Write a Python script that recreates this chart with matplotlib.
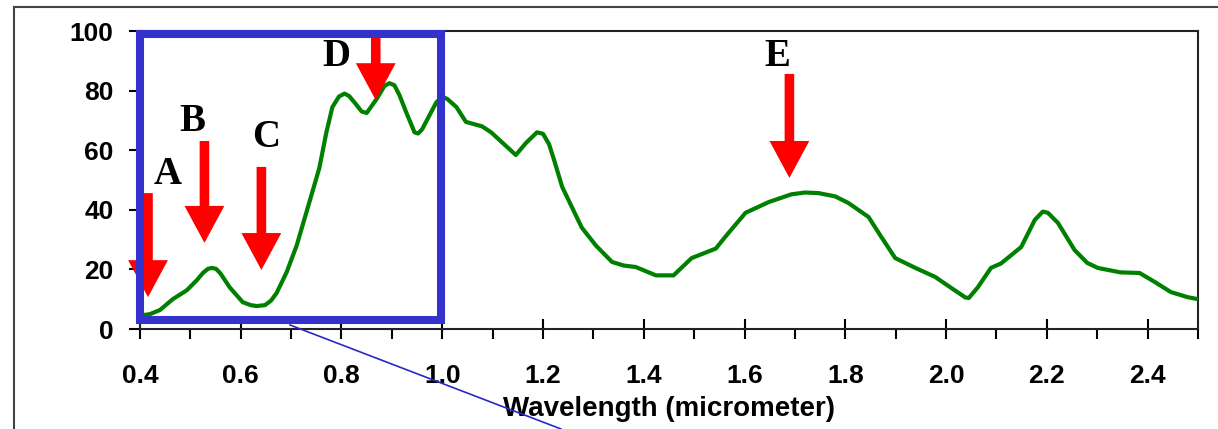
import numpy as np
import matplotlib.pyplot as plt
from matplotlib.patches import Rectangle
from matplotlib.lines import Line2D
from matplotlib.ticker import MultipleLocator

# spectrum
WAVELENGTH = [0.40, 0.42, 0.44, 0.465, 0.493, 0.513, 0.525, 0.535, 0.543, 0.551,
              0.560, 0.578, 0.604, 0.620, 0.632, 0.648, 0.660, 0.671, 0.691, 0.711,
              0.737, 0.756, 0.770, 0.782, 0.795, 0.806, 0.815, 0.826, 0.840, 0.850,
              0.869, 0.885, 0.895, 0.905, 0.915, 0.929, 0.945, 0.952, 0.960, 0.988,
              1.000, 1.010, 1.028, 1.047, 1.079, 1.097, 1.146, 1.166, 1.188, 1.200,
              1.212, 1.222, 1.238, 1.257, 1.277, 1.305, 1.337, 1.360, 1.384, 1.424,
              1.459, 1.495, 1.543, 1.562, 1.602, 1.648, 1.693, 1.720, 1.747, 1.780,
              1.806, 1.846, 1.871, 1.899, 1.939, 1.978, 2.010, 2.038, 2.045, 2.063,
              2.089, 2.109, 2.149, 2.176, 2.192, 2.202, 2.222, 2.255, 2.280, 2.301,
              2.346, 2.384, 2.414, 2.446, 2.479, 2.500]
VALUE = [4.5, 5.0, 6.4, 10.0, 13.0, 16.4, 18.8, 20.2, 20.5, 20.2,
         18.6, 14.0, 9.0, 8.0, 7.7, 8.0, 9.5, 12.0, 19.0, 28.0,
         43.0, 54.0, 66.0, 74.5, 78.0, 79.0, 78.2, 76.0, 73.0, 72.5,
         77.0, 81.5, 82.5, 81.8, 78.5, 72.5, 66.0, 65.6, 67.0, 76.0,
         78.0, 77.2, 74.5, 69.5, 68.0, 66.0, 58.4, 62.4, 66.0, 65.5,
         62.0, 56.7, 47.7, 41.0, 34.0, 28.0, 22.5, 21.3, 20.8, 18.0,
         18.0, 23.8, 27.0, 31.0, 39.0, 42.6, 45.2, 45.8, 45.6, 44.5,
         42.3, 37.6, 31.0, 23.8, 20.5, 17.5, 13.8, 10.6, 10.4, 14.0,
         20.5, 22.0, 27.5, 36.6, 39.4, 39.0, 35.6, 26.5, 22.2, 20.5,
         19.0, 18.8, 15.8, 12.4, 10.7, 10.0]

# marker arrows: label, x, tip y, tail y, label x, label y
LABELS = ["A", "B", "C", "D", "E"]
ARROW_X = [0.416, 0.528, 0.641, 0.868, 1.689]
ARROW_TIP = [10.7, 28.9, 19.8, 76.8, 50.7]
ARROW_TAIL = [45.6, 63.1, 54.4, 98.7, 85.6]
LABEL_X = [0.455, 0.503, 0.651, 0.790, 1.665]
LABEL_Y = [51.7, 69.5, 64.4, 91.3, 91.6]

plt.rcParams['font.family'] = ['Liberation Sans', 'DejaVu Sans']

fig = plt.figure(figsize=(12.18, 4.29), dpi=100)
ax = fig.add_axes([0.1149, 0.2331, 0.8687, 0.6946])

ax.plot(WAVELENGTH, VALUE, color="#008000", lw=3, zorder=3,
        solid_joinstyle="round")

for lab, x, tip, tail, lx, ly in zip(LABELS, ARROW_X, ARROW_TIP, ARROW_TAIL,
                                     LABEL_X, LABEL_Y):
    ax.arrow(x, tail, 0, tip - tail, width=0.019, head_width=0.079,
             head_length=12.4, length_includes_head=True, color="#ff0000",
             lw=0, zorder=4, clip_on=False)
    ax.text(lx, ly, lab, family="Liberation Serif", fontweight="bold",
            fontsize=28, ha="center", va="center", zorder=5)

# blue zoom box
ax.add_patch(Rectangle((0.4, 3.0), 0.598, 96.0, fill=False, edgecolor="#3333cc",
                       lw=5.8, zorder=6, clip_on=False))

ax.set_xlim(0.4, 2.5)
ax.set_ylim(0, 100)
ax.xaxis.set_major_locator(MultipleLocator(0.2))
ax.xaxis.set_minor_locator(MultipleLocator(0.1))
ax.yaxis.set_major_locator(MultipleLocator(20))
ax.set_xticklabels([f"{v:.1f}" for v in ax.get_xticks()])

for sp in ax.spines.values():
    sp.set_linewidth(1.5)
    sp.set_color("#222222")

ax.tick_params(axis="x", which="major", direction="inout", length=14, width=1.5,
               pad=18, labelsize=19)
ax.tick_params(axis="x", which="minor", direction="out", length=7, width=1.5)
ax.tick_params(axis="y", direction="out", length=8, width=1.5, pad=11,
               labelsize=19)
for lbl in ax.get_xticklabels() + ax.get_yticklabels():
    lbl.set_fontweight("bold")

ax.set_xlabel("Wavelength (micrometer)", fontsize=20, fontweight="bold",
              labelpad=6)

# thin blue leader line and outer frame
fig.add_artist(Line2D([290 / 1218, 561 / 1218], [1 - 325 / 429, 0.0],
                      color="#2828c8", lw=1.2))
fig.add_artist(Line2D([14 / 1218, 1.0], [1 - 7 / 429, 1 - 7 / 429],
                      color="#444444", lw=1.5))
fig.add_artist(Line2D([14 / 1218, 14 / 1218], [0.0, 1 - 7 / 429],
                      color="#444444", lw=1.5))

plt.savefig("out.png", dpi=100)
